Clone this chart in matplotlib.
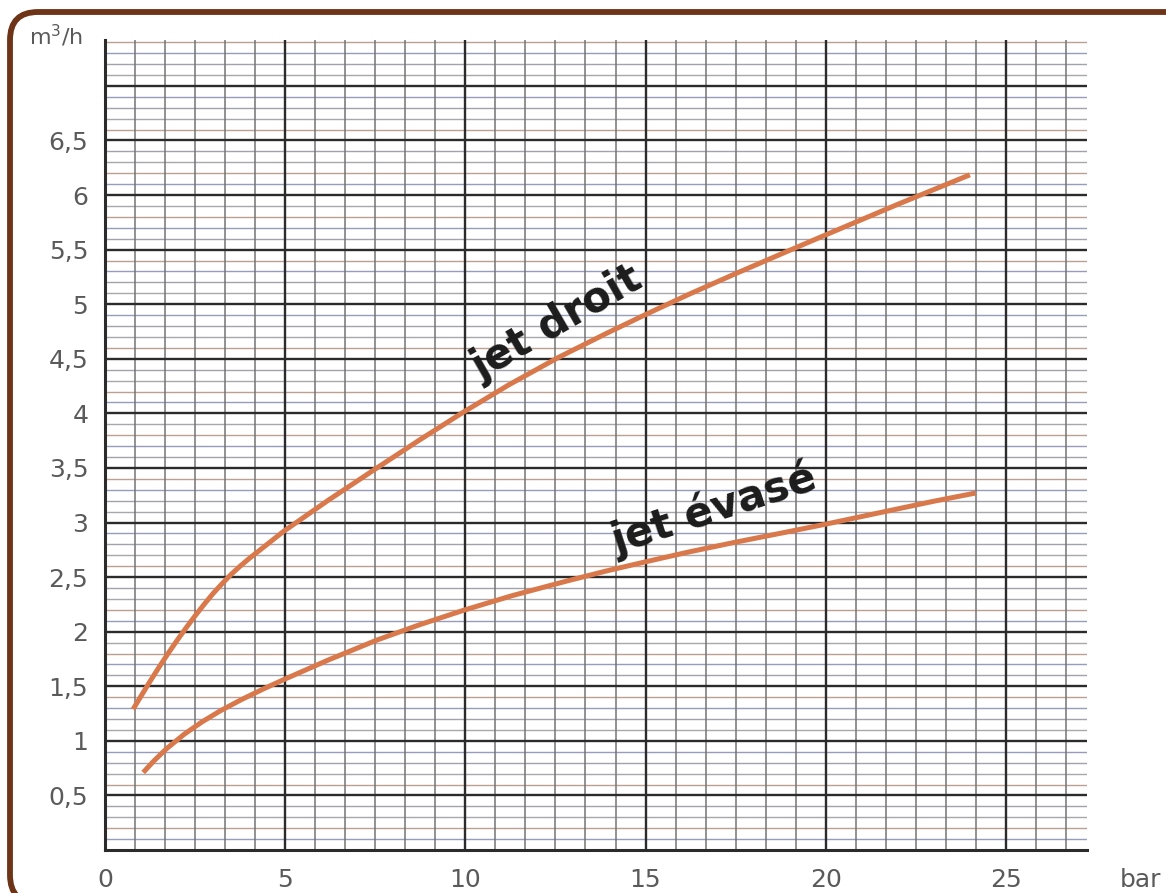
import matplotlib
matplotlib.use("Agg")
import numpy as np
import matplotlib.pyplot as plt
from matplotlib.patches import FancyBboxPatch

# valeurs (pression en bar, débit en m3/h)
pression_droit = [0.78, 1.0, 1.25, 1.5, 1.75, 2.0, 2.25, 2.5, 2.75, 3.0, 3.25, 3.5, 3.75, 4.0, 4.5, 4.94,
                  6.2, 7.5, 8.7, 9.94, 11.2, 12.57, 13.9, 15.0, 16.2, 17.5, 18.8, 20.0, 21.0, 22.0, 23.0, 24.0]
debit_droit = [1.29, 1.41, 1.545, 1.675, 1.80, 1.92, 2.035, 2.145, 2.25, 2.35, 2.44, 2.525, 2.60, 2.67, 2.80, 2.915,
               3.205, 3.49, 3.75, 4.01, 4.26, 4.51, 4.73, 4.905, 5.09, 5.28, 5.465, 5.635, 5.775, 5.915, 6.05, 6.185]

pression_evase = [1.06, 1.35, 1.7, 2.2, 2.68, 3.2, 3.8, 4.4, 4.94, 6.2, 7.56, 8.7, 9.94, 11.3, 12.77, 13.9,
                  15.0, 16.2, 17.5, 18.8, 20.0, 21.0, 22.0, 23.0, 24.16]
debit_evase = [0.71, 0.814, 0.926, 1.061, 1.171, 1.275, 1.38, 1.476, 1.558, 1.741, 1.925, 2.06, 2.195, 2.33, 2.46, 2.555,
               2.64, 2.73, 2.82, 2.905, 2.985, 3.055, 3.125, 3.195, 3.27]

x_ticks = [0, 5, 10, 15, 20, 25]
x_labels = ["0", "5", "10", "15", "20", "25"]
y_ticks = [0.5, 1, 1.5, 2, 2.5, 3, 3.5, 4, 4.5, 5, 5.5, 6, 6.5]
y_labels = ["0,5", "1", "1,5", "2", "2,5", "3", "3,5", "4", "4,5", "5", "5,5", "6", "6,5"]

plt.rcParams['font.family'] = ['DejaVu Sans']

W, H = 1166, 893
fig = plt.figure(figsize=(W / 100, H / 100), dpi=100)
ax = fig.add_axes([105 / W, 1 - 850 / H, (1087 - 105) / W, (850 - 40) / H])

xmax, ymax = 27.25, 7.42
ax.set_xlim(0, xmax)
ax.set_ylim(0, ymax)

# papier millimétré
couleurs_mineures = ['#a2a2aa', '#959cbc', '#bba091', '#a8a8ac']
for i in range(1, 75):
    y = i * 0.1
    if i % 5 == 0:
        ax.axhline(y, color='#2b2b2b', lw=1.7, zorder=2)
    else:
        ax.axhline(y, color=couleurs_mineures[i % 4], lw=1.0, zorder=1)
for j in range(1, 33):
    x = j * 5 / 6
    if x >= xmax:
        break
    ax.axvline(x, color='#747474', lw=1.1, zorder=1)
for x in [5, 10, 15, 20, 25]:
    ax.axvline(x, color='#2b2b2b', lw=1.7, zorder=2)

ax.plot(pression_droit, debit_droit, color='#d9794b', lw=3.6, solid_capstyle='butt',
        solid_joinstyle='round', zorder=3)
ax.plot(pression_evase, debit_evase, color='#d9794b', lw=3.6, solid_capstyle='butt',
        solid_joinstyle='round', zorder=3)

ax.text(12.55, 4.82, "jet droit", rotation=30, rotation_mode='anchor', ha='center', va='center',
        fontsize=30, fontweight='bold', color='#1c1c1c', zorder=4)
ax.text(16.9, 3.12, "jet évasé", rotation=18, rotation_mode='anchor', ha='center', va='center',
        fontsize=30, fontweight='bold', color='#1c1c1c', zorder=4)

for s in ['top', 'right']:
    ax.spines[s].set_visible(False)
for s in ['left', 'bottom']:
    ax.spines[s].set_color('#2b2b2b')
    ax.spines[s].set_linewidth(2.2)

ax.set_xticks(x_ticks)
ax.set_xticklabels(x_labels)
ax.set_yticks(y_ticks)
ax.set_yticklabels(y_labels)
ax.tick_params(length=0, labelsize=18, labelcolor='#5a5a5a')
ax.tick_params(axis='x', pad=13)
ax.tick_params(axis='y', pad=12)

fig.text(1140 / W, 1 - 880 / H, "bar", ha='center', va='center', fontsize=18, color='#5a5a5a')
fig.text(56 / W, 1 - 36 / H, "m$^3$/h", ha='center', va='center', fontsize=16, color='#5a5a5a')

# cadre marron arrondi
cadre = FancyBboxPatch((10, -10), 1190, H - 12 + 10,
                       boxstyle="round,pad=0,rounding_size=28",
                       transform=None, fill=False, edgecolor='#6e3417', lw=4.2, zorder=10)
fig.patches.append(cadre)

fig.savefig("out.png", dpi=100)
